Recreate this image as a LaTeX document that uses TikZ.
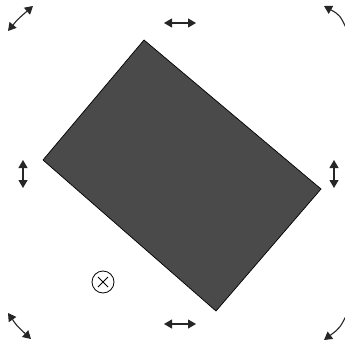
\documentclass[tikz,border=0pt]{standalone}
\usetikzlibrary{arrows.meta}
\tikzset{
  handle/.style={line width=1.1pt, black!85, {Triangle[length=8pt,width=9pt]}-{Triangle[length=8pt,width=9pt]}},
  rothandle/.style={line width=1.1pt, black!85, {Triangle[length=8pt,width=9pt]}-},
}
\begin{document}
\begin{tikzpicture}[x=1pt,y=-1pt]%rotated rectangle with handles
	\useasboundingbox (0,0) rectangle (345,342);
	\clip (0,0) rectangle (345,342);

	% rectangle corners
	\coordinate (top) at (144,40);
	\coordinate (rgt) at (321,189);
	\coordinate (bot) at (216,311);
	\coordinate (lft) at (43,160);
	\filldraw[fill=black!71, draw=black, line width=.7pt] (top) -- (rgt) -- (bot) -- (lft) -- cycle;

	% stretch handles
	\draw[handle] (164,23) -- (196,23);
	\draw[handle] (164,324) -- (196,324);
	\draw[handle] (23,160) -- (23,188);
	\draw[handle] (334,160) -- (334,188);

	% rotation handles
	\draw[handle] (8,31) .. controls (18,19) .. (33,6);
	\draw[rothandle] (324,6) .. controls (340,15) .. (348,32);
	\draw[handle] (8,313) .. controls (17,326) .. (31,339);
	\draw[rothandle] (324,340) .. controls (340,328) .. (348,312);

	% centre of rotation
	\draw[line width=.8pt] (103,282) circle (11);
	\draw[line width=.8pt] (98,277) -- (108,287) (98,287) -- (108,277);
\end{tikzpicture}
\end{document}
